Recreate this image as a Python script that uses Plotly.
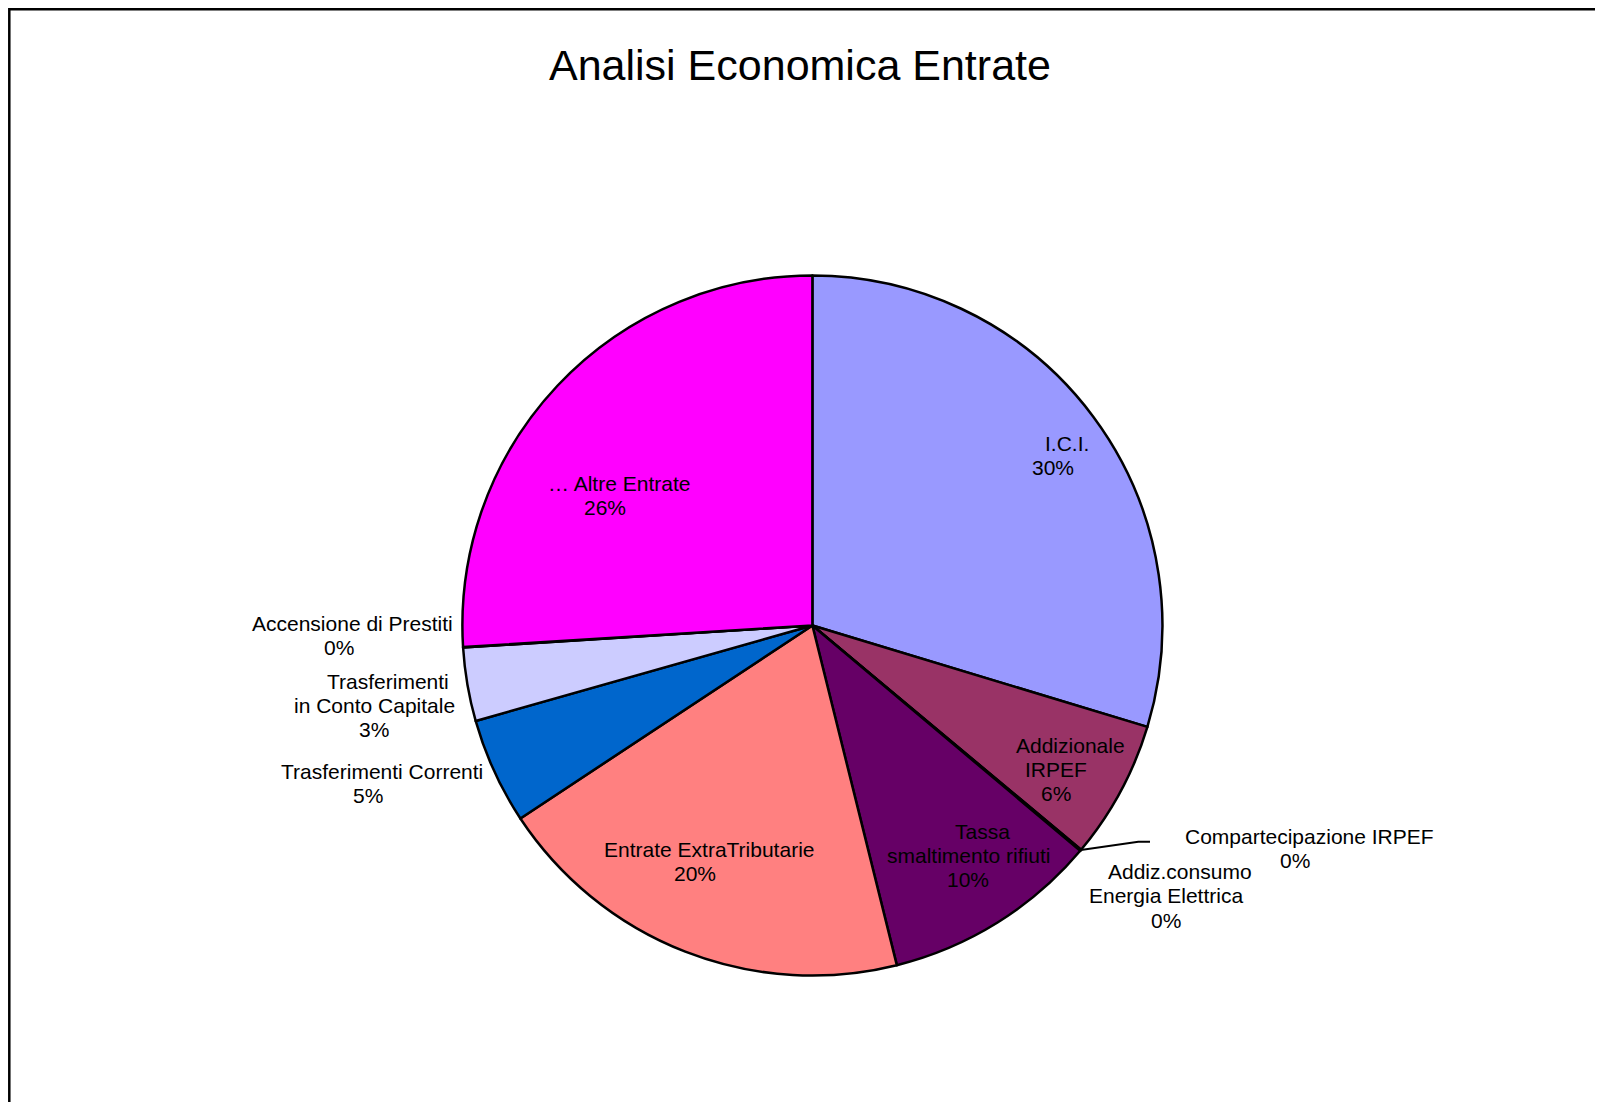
import math
import plotly.graph_objects as go

W, H = 1603, 1102

# ---- data ----
categories = ["I.C.I.", "Addizionale IRPEF", "Compartecipazione IRPEF",
              "Addiz.consumo Energia Elettrica", "Tassa smaltimento rifiuti",
              "Entrate ExtraTributarie", "Trasferimenti Correnti",
              "Trasferimenti in Conto Capitale", "Accensione di Prestiti",
              "… Altre Entrate"]
values = [29.7, 6.4, 0.03, 0.03, 10.0, 19.6, 4.9, 3.4, 0.02, 26.0]
label_lines = [["I.C.I."], ["Addizionale", "IRPEF"], ["Compartecipazione IRPEF"],
               ["Addiz.consumo", "Energia Elettrica"], ["Tassa", "smaltimento rifiuti"],
               ["Entrate ExtraTributarie"], ["Trasferimenti Correnti"],
               ["Trasferimenti", "in Conto Capitale"], ["Accensione di Prestiti"],
               ["… Altre Entrate"]]

# ---- styles / layout (window pixel coordinates) ----
colors = ["#9999FF", "#993366", "#FFFFCC", "#CCFFFF", "#660066",
          "#FF8080", "#0066CC", "#CCCCFF", "#000080", "#FF00FF"]
label_pos = [(1053, 443.7), (1056, 745.3), (1295.3, 836.0), (1166, 871.5),
             (968, 831.0), (695, 849.5), (368, 771.0), (374, 681.0),
             (338.5, 623.5), (605, 483.5)]
CX, CY, R = 812.4, 625.5, 350.0
FONT = "Liberation Sans, Arial, sans-serif"
LINE_STEP = 24.3
FIRST_SHIFT = 14.3
OFF = 8.0  # page body margin


def px(x):
    return (x - OFF) / W


def py(y):
    return 1 - (y - OFF) / H


total = sum(values)
pct = [f"{round(v / total * 100)}%" for v in values]

fig = go.Figure(go.Pie(
    labels=categories, values=values, sort=False, direction="clockwise",
    rotation=0, textinfo="none", hoverinfo="label+percent",
    marker=dict(colors=colors, line=dict(color="black", width=2.5)),
    domain=dict(x=[px(CX - R), px(CX + R)], y=[py(CY + R), py(CY - R)]),
    showlegend=False,
))

annotations = []
for lines, (bx, by), p in zip(label_lines, label_pos, pct):
    all_lines = lines + [p]
    for i, t in enumerate(all_lines):
        dx = FIRST_SHIFT if (i == 0) else 0
        annotations.append(dict(
            x=px(bx + dx), y=py(by + i * LINE_STEP), xref="paper", yref="paper",
            text=t, showarrow=False, xanchor="center", yanchor="middle",
            font=dict(family=FONT, size=21, color="black")))

annotations.append(dict(
    x=px(799.5), y=py(64.5), xref="paper", yref="paper",
    text="Analisi Economica Entrate", showarrow=False,
    xanchor="center", yanchor="middle",
    font=dict(family=FONT, size=43, color="black")))

# leader line for the "Compartecipazione IRPEF" slice
cum = sum(values[:2]) + values[2] / 2
ang = math.radians(cum / total * 360)
sx, sy = CX + R * math.sin(ang), CY - R * math.cos(ang)
path = (f"M {px(sx)},{py(sy)} L {px(1138.3)},{py(841.7)} "
        f"L {px(1150)},{py(841.7)}")

shapes = [
    dict(type="path", path=path, xref="paper", yref="paper",
         line=dict(color="black", width=2)),
    dict(type="rect", xref="paper", yref="paper",
         x0=px(9.3), x1=1.02, y0=-0.02, y1=py(9.3),
         line=dict(color="black", width=2.5), fillcolor="rgba(0,0,0,0)"),
]

fig.update_layout(
    width=W, height=H, margin=dict(l=0, r=0, t=0, b=0),
    paper_bgcolor="white", plot_bgcolor="white",
    annotations=annotations, shapes=shapes,
    font=dict(family=FONT),
)

fig.write_html("out.html")
